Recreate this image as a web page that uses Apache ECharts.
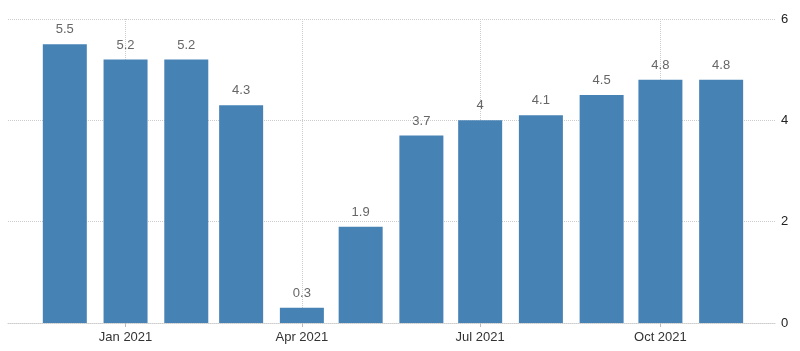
<!DOCTYPE html>
<html><head><meta charset="utf-8">
<script src="https://cdn.jsdelivr.net/npm/echarts@6/dist/echarts.min.js"></script>
<style>html,body{margin:0;padding:0;background:#fff}#c{width:800px;height:351px}</style>
</head><body><div id="c"></div>
<script>
const months = ['2020-12-01','2021-01-01','2021-02-01','2021-03-01','2021-04-01','2021-05-01','2021-06-01','2021-07-01','2021-08-01','2021-09-01','2021-10-01','2021-11-01'];
const values = [5.5, 5.2, 5.2, 4.3, 0.3, 1.9, 3.7, 4, 4.1, 4.5, 4.8, 4.8];
const tickDates = ['2021-01-01','2021-04-01','2021-07-01','2021-10-01'];
const MON = ['Jan','Feb','Mar','Apr','May','Jun','Jul','Aug','Sep','Oct','Nov','Dec'];
const DAY = 86400000;
const T0 = Date.UTC(2021, 0, 1);
const day = s => Math.round((new Date(s + 'T00:00:00Z').getTime() - T0) / DAY);
const fmt = v => { const d = new Date(T0 + v * DAY); return MON[d.getUTCMonth()] + ' ' + d.getUTCFullYear(); };
const chart = echarts.init(document.getElementById('c'));
chart.setOption({
  animation: false,
  grid: {left: 8, right: 24, top: 19, bottom: 28},
  xAxis: {
    type: 'value',
    min: day('2020-11-02'), max: day('2021-11-29'),
    axisLine: {show: true, onZero: false, lineStyle: {color: '#ccc', type: 'dotted'}},
    axisTick: {show: true, customValues: tickDates.map(day), length: 4, lineStyle: {color: '#bbb'}},
    axisLabel: {customValues: tickDates.map(day), color: '#333', fontSize: 13, fontFamily: 'Liberation Sans', margin: 8, formatter: fmt},
    splitLine: {show: true, lineStyle: {color: '#ccc', type: 'dotted'}}
  },
  yAxis: {
    type: 'value', position: 'right', min: 0, max: 6, interval: 2,
    axisLine: {show: false}, axisTick: {show: false},
    axisLabel: {color: '#222', fontSize: 13, fontFamily: 'Liberation Sans', margin: 5},
    splitLine: {lineStyle: {color: '#ccc', type: 'dotted'}}
  },
  series: [{
    type: 'bar',
    barWidth: 44,
    data: months.map((m, i) => [day(m), values[i]]),
    itemStyle: {color: '#4682b4'},
    label: {show: true, position: 'top', distance: 8, color: '#666', fontSize: 13, fontFamily: 'Liberation Sans'}
  }]
});
</script></body></html>
